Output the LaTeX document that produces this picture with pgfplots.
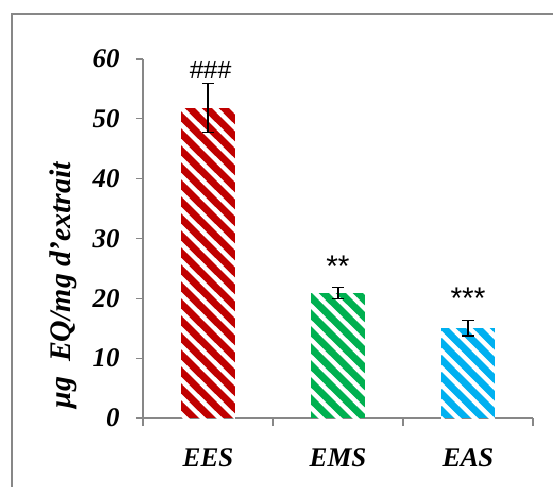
\documentclass[border=0pt]{standalone}
\usepackage{fontspec}
\setmainfont{Liberation Serif}
\newfontfamily\arialfont{Liberation Sans}
\usepackage{pgfplots}
\pgfplotsset{compat=1.18}
\usetikzlibrary{patterns}
\definecolor{ered}{HTML}{C00000}
\definecolor{egreen}{HTML}{00B050}
\definecolor{eblue}{HTML}{00B0F0}
\definecolor{axgray}{HTML}{878787}
\pgfdeclarepatternformonly{wstripes}{\pgfqpoint{0bp}{0bp}}{\pgfqpoint{17bp}{17bp}}{\pgfqpoint{17bp}{17bp}}{%
  \pgfsetlinewidth{4.5bp}%
  \pgfpathmoveto{\pgfqpoint{-3bp}{20bp}}\pgfpathlineto{\pgfqpoint{20bp}{-3bp}}%
  \pgfpathmoveto{\pgfqpoint{-3bp}{3bp}}\pgfpathlineto{\pgfqpoint{3bp}{-3bp}}%
  \pgfpathmoveto{\pgfqpoint{14bp}{20bp}}\pgfpathlineto{\pgfqpoint{20bp}{14bp}}%
  \pgfusepath{stroke}}
\begin{document}
\begin{tikzpicture}
\useasboundingbox (-143bp,-69bp) rectangle (410bp,418bp);
\draw[axgray, line width=1.2bp] (-131bp,-80bp) -- (-131bp,404bp) -- (420bp,404bp);
\begin{axis}[
  at={(0,0)}, anchor=south west,
  scale only axis, width=390bp, height=359bp,
  xmin=-0.5, xmax=2.5, ymin=0, ymax=60,
  axis x line=bottom, axis y line=left,
  axis line style={-, draw=axgray, line width=1.2bp},
  xtick={0,1,2}, xticklabels={EES,EMS,EAS},
  major x tick style={draw=none},
  minor xtick={-0.5,0.5,1.5,2.5},
  minor tick length=8bp,
  ytick={0,10,...,60}, major tick length=7bp,
  tick align=outside,
  every tick/.style={axgray, line width=1.2bp},
  /pgf/number format/assume math mode=true,
  tick label style={font=\bfseries\itshape\fontsize{27}{27}\selectfont},
  xticklabel style={yshift=-20bp},
  yticklabel style={xshift=-13bp},
  ylabel={μg\ \ EQ/mg d'extrait},
  ylabel style={at={([xshift=-80bp]axis description cs:0,0.37)}, anchor=center, rotate=0,
    font=\bfseries\itshape\fontsize{30}{30}\selectfont},
  ybar, bar width=54bp, bar shift=0pt,
  error bars/error bar style={draw=black, line width=1.3bp},
  error bars/error mark options={draw=black, rotate=90, mark size=6bp, line width=1.3bp},
  clip=false,
]
\addplot[draw=none, fill=ered, postaction={pattern=wstripes, pattern color=white},
  error bars/.cd, y dir=both, y explicit] coordinates {(0,51.8) +- (0,4.1)};
\addplot[draw=none, fill=egreen, postaction={pattern=wstripes, pattern color=white},
  error bars/.cd, y dir=both, y explicit] coordinates {(1,20.9) +- (0,0.9)};
\addplot[draw=none, fill=eblue, postaction={pattern=wstripes, pattern color=white},
  error bars/.cd, y dir=both, y explicit] coordinates {(2,15.0) +- (0,1.3)};
\node[font=\arialfont\fontsize{25}{25}\selectfont] at (axis cs:0.02,58.2) {\#\#\#};
\node[font=\arialfont\fontsize{30}{30}\selectfont] at (axis cs:1.0,25.3) {**};
\node[font=\arialfont\fontsize{30}{30}\selectfont] at (axis cs:2.0,20.1) {***};
\end{axis}
\end{tikzpicture}
\end{document}
